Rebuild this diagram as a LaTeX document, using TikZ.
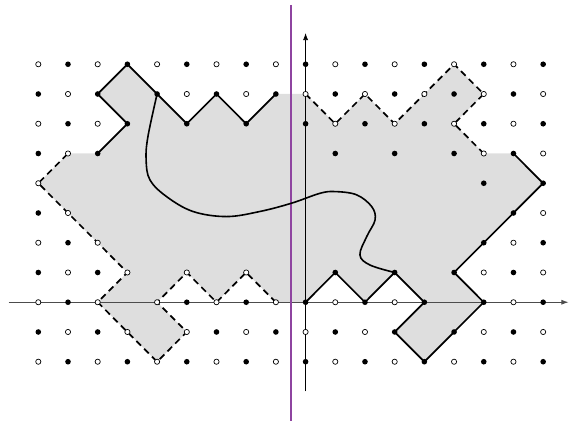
\documentclass[tikz,border=0pt]{standalone}
\usetikzlibrary{arrows.meta}
\definecolor{purp}{RGB}{142,68,160}
\definecolor{regiongray}{RGB}{222,222,222}
\tikzset{
  solidpath/.style={line width=1.7pt, line join=round, line cap=round},
  dashpath/.style={line width=1.7pt, dash pattern=on 6.5pt off 4.5pt},
  curvepath/.style={line width=1.6pt},
  axisline/.style={line width=0.7pt, -{Latex[length=7pt,width=5pt]}},
  fulldot/.style={fill=black},
  emptydot/.style={draw=black, line width=0.7pt, fill=white},
}
\newcommand\latdot[2]{%
  \pgfmathtruncatemacro\parityval{mod(#1+#2+40,2)}%
  \ifnum\parityval=0
    \fill[fulldot] (#1,#2) circle[radius=2.8pt];
  \else
    \draw[emptydot] (#1,#2) circle[radius=2.6pt];
  \fi}
\begin{document}
\begin{tikzpicture}[x=29.7pt,y=29.75pt]
\useasboundingbox (-10.29,-3.99) rectangle (8.87,10.16);
% shaded region
\fill[regiongray] (-7,5) -- (-6,6) -- (-7,7) -- (-6,8) -- (-5,7) -- (-4,6) -- (-3,7) -- (-2,6) -- (-1,7) -- (0,7) -- (1,6) -- (2,7) -- (3,6) -- (4,7) -- (5,8) -- (6,7) -- (5,6) -- (6,5) -- (7,5) -- (8,4) -- (7,3) -- (6,2) -- (5,1) -- (6,0) -- (5,-1) -- (4,-2) -- (3,-1) -- (4,0) -- (3,1) -- (2,0) -- (1,1) -- (0,0) -- (-1,0) -- (-2,1) -- (-3,0) -- (-4,1) -- (-5,0) -- (-4,-1) -- (-5,-2) -- (-6,-1) -- (-7,0) -- (-6,1) -- (-7,2) -- (-8,3) -- (-9,4) -- (-8,5) -- cycle;
% axes
\draw[axisline, draw=black!70] (-10,0) -- (8.85,0);
\draw[axisline] (0,-3) -- (0,9.05);
% purple line
\draw[purp, line width=2pt] (-0.5,10) -- (-0.5,-4.05);
% solid paths
\draw[solidpath] (-7,5) -- (-6,6) -- (-7,7) -- (-6,8) -- (-5,7) -- (-4,6) -- (-3,7) -- (-2,6) -- (-1,7);
\draw[solidpath] (7,5) -- (8,4) -- (7,3) -- (6,2) -- (5,1) -- (6,0) -- (5,-1) -- (4,-2) -- (3,-1) -- (4,0) -- (3,1) -- (2,0) -- (1,1) -- (0,0);
% dashed paths
\draw[dashpath] (0,7) -- (1,6) -- (2,7) -- (3,6) -- (4,7) -- (5,8) -- (6,7) -- (5,6) -- (6,5);
\draw[dashpath] (-1,0) -- (-2,1) -- (-3,0) -- (-4,1) -- (-5,0) -- (-4,-1) -- (-5,-2) -- (-6,-1) -- (-7,0) -- (-6,1) -- (-7,2) -- (-8,3) -- (-9,4) -- (-8,5);
% curve
\draw[curvepath] plot[smooth, tension=0.6] coordinates {(-5,7) (-5.31,5.56) (-5.37,4.78) (-5.24,4.11) (-4.68,3.55) (-3.79,3.05) (-2.66,2.88) (-1.54,3.05) (-0.47,3.33) (0.48,3.66) (0.99,3.72) (1.72,3.61) (2.23,3.21) (2.34,2.77) (2.06,2.21) (1.83,1.59) (2.17,1.25) (3,1)};
% lattice dots
\foreach \yy/\xs in {
  8/{-9,-8,-7,-6,-5,-4,-3,-2,-1,0,1,2,3,4,5,6,7,8},
  7/{-9,-8,-7,-5,-4,-3,-2,-1,0,1,2,3,4,5,6,7,8},
  6/{-9,-8,-7,-6,-4,-2,0,1,2,3,4,5,6,7,8},
  5/{-9,-8,-7,1,3,5,6,7,8},
  4/{-9,6,8},
  3/{-9,-8,7,8},
  2/{-9,-8,-7,6,7,8},
  1/{-9,-8,-7,-6,-4,-2,1,3,5,6,7,8},
  0/{-9,-8,-7,-5,-4,-3,-2,-1,0,1,2,3,4,6,7,8},
  -1/{-9,-8,-7,-6,-4,-3,-2,-1,0,1,2,3,5,6,7,8},
  -2/{-9,-8,-7,-6,-5,-4,-3,-2,-1,0,1,2,3,4,5,6,7,8}}
{
  \foreach \xx in \xs {\latdot{\xx}{\yy}}
}
\end{tikzpicture}
\end{document}
